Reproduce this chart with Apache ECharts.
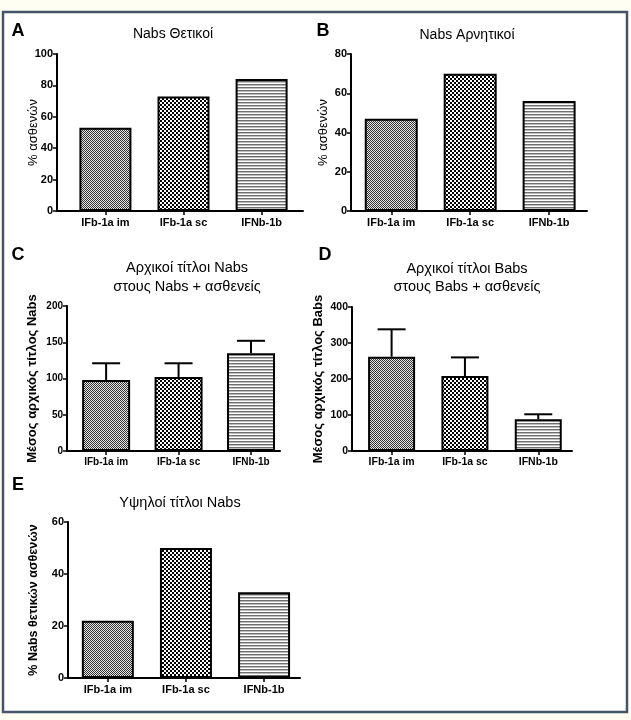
<!DOCTYPE html>
<html>
<head>
<meta charset="utf-8">
<script src="https://cdn.jsdelivr.net/npm/echarts@6/dist/echarts.min.js"></script>
<style>
html,body{margin:0;padding:0;background:#fffef3;}
#c{width:631px;height:720px;}
</style>
</head>
<body>
<div id="c"></div>
<script>
// ---------- data ----------
const categories = ['IFb-1a im', 'IFb-1a sc', 'IFNb-1b'];
const valuesA = [53, 73, 84];          // Nabs Θετικοί, % ασθενών
const valuesB = [47, 70, 56];          // Nabs Αρνητικοί, % ασθενών
const valuesC = [98, 102, 135];        // mean initial Nabs titer
const errorsC = [121, 121, 152];       // upper error bar
const valuesD = [262, 208, 88];        // mean initial Babs titer
const errorsD = [338, 260, 102];       // upper error bar
const valuesE = [22, 50, 33];          // % Nabs-positive patients with high titer
const ticksA = [0, 20, 40, 60, 80, 100];
const ticksB = [0, 20, 40, 60, 80];
const ticksC = [0, 50, 100, 150, 200];
const ticksD = [0, 100, 200, 300, 400];
const ticksE = [0, 20, 40, 60];

// ---------- patterns ----------
function makePattern(kind) {
  const c = document.createElement('canvas');
  const g = c.getContext('2d');
  if (kind === 0) {           // fine grey checker
    c.width = 2; c.height = 2;
    g.fillStyle = '#e6e6e6'; g.fillRect(0, 0, 2, 2);
    g.fillStyle = '#333333'; g.fillRect(0, 0, 1, 1); g.fillRect(1, 1, 1, 1);
  } else if (kind === 1) {    // coarse black/white checker
    c.width = 4; c.height = 4;
    g.fillStyle = '#ffffff'; g.fillRect(0, 0, 4, 4);
    g.fillStyle = '#000000'; g.fillRect(0, 0, 2, 2); g.fillRect(2, 2, 2, 2);
  } else {                    // horizontal grey stripes
    c.width = 3; c.height = 3;
    g.fillStyle = '#ffffff'; g.fillRect(0, 0, 3, 3);
    g.fillStyle = '#6e6e6e'; g.fillRect(0, 0, 3, 1);
    g.fillStyle = '#bdbdbd'; g.fillRect(0, 1, 3, 1);
  }
  return { image: c, repeat: 'repeat' };
}
const patterns = [makePattern(0), makePattern(1), makePattern(2)];

const FONT = '"Liberation Sans", Arial, sans-serif';

// ---------- panel layout ----------
const panels = [
  { grid: { left: 57, top: 54, width: 246, height: 157 }, xmin: -0.62, xmax: 2.53, ymax: 100, step: 20, ticks: ticksA,
    vals: valuesA, bw: 52, name: '% ασθενών', nameGap: 17, nameStyle: { fontSize: 13, fontWeight: 'normal' }, fs: 11 },
  { grid: { left: 351, top: 54, width: 236, height: 157 }, xmin: -0.51, xmax: 2.48, ymax: 80, step: 20, ticks: ticksB,
    vals: valuesB, bw: 53, name: '% ασθενών', nameGap: 21, nameStyle: { fontSize: 13, fontWeight: 'normal' }, fs: 11 },
  { grid: { left: 67, top: 306, width: 213, height: 145 }, xmin: -0.54, xmax: 2.4, ymax: 200, step: 50, ticks: ticksC,
    vals: valuesC, errs: errorsC, bw: 48, cap: 28, name: 'Μέσος αρχικός τίτλος Nabs', nameGap: 28, nameStyle: { fontSize: 13, fontWeight: 'bold' }, fs: 10 },
  { grid: { left: 352, top: 307, width: 220, height: 144 }, xmin: -0.54, xmax: 2.46, ymax: 400, step: 100, ticks: ticksD,
    vals: valuesD, errs: errorsD, bw: 47, cap: 28, name: 'Μέσος αρχικός τίτλος Babs', nameGap: 27, nameStyle: { fontSize: 13, fontWeight: 'bold' }, fs: 10.5 },
  { grid: { left: 68, top: 522, width: 232, height: 156 }, xmin: -0.51, xmax: 2.46, ymax: 60, step: 20, ticks: ticksE,
    vals: valuesE, bw: 52, name: '% Nabs θετικών ασθενών', nameGap: 28, nameStyle: { fontSize: 12.5, fontWeight: 'bold' }, fs: 11 }
];

const grid = [], xAxis = [], yAxis = [], series = [];
panels.forEach((p, k) => {
  grid.push(p.grid);
  xAxis.push({
    type: 'value', gridIndex: k, min: p.xmin, max: p.xmax,
    splitLine: { show: false },
    axisLine: { show: true, onZero: false, lineStyle: { color: '#000', width: 2 } },
    axisTick: { show: true, length: 4, inside: false, customValues: [0, 1, 2], lineStyle: { color: '#000', width: 1.5 } },
    axisLabel: { show: true, customValues: [0, 1, 2], margin: 6, color: '#000', fontFamily: FONT, fontWeight: 'bold', fontSize: p.fs,
      formatter: v => categories[Math.round(v)] || '' }
  });
  yAxis.push({
    type: 'value', gridIndex: k, min: 0, max: p.ymax, interval: p.step,
    splitLine: { show: false },
    axisLine: { show: true, onZero: false, lineStyle: { color: '#000', width: 2 } },
    axisTick: { show: true, length: 4, inside: false, lineStyle: { color: '#000', width: 1.5 } },
    axisLabel: { margin: 4, color: '#000', fontFamily: FONT, fontWeight: 'bold', fontSize: p.fs },
    name: p.name, nameLocation: 'middle', nameGap: p.nameGap, nameRotate: 90, nameMoveOverlap: false,
    nameTextStyle: Object.assign({ color: '#000', fontFamily: FONT }, p.nameStyle)
  });
  series.push({
    type: 'bar', xAxisIndex: k, yAxisIndex: k, barWidth: p.bw,
    data: p.vals.map((v, i) => ({ value: [i, v], itemStyle: { color: patterns[i] } })),
    itemStyle: { borderColor: '#000', borderWidth: 2 },
    silent: true
  });
  if (p.errs) {
    const cap = p.cap;
    series.push({
      type: 'custom', xAxisIndex: k, yAxisIndex: k, silent: true, z: 3,
      data: p.vals.map((v, i) => [i, v, p.errs[i]]),
      encode: { x: 0, y: [1, 2] },
      renderItem: (params, api) => {
        const a = api.coord([api.value(0), api.value(1)]);
        const b = api.coord([api.value(0), api.value(2)]);
        const st = { stroke: '#000', lineWidth: 2 };
        return { type: 'group', children: [
          { type: 'line', shape: { x1: a[0], y1: a[1], x2: b[0], y2: b[1] }, style: st },
          { type: 'line', shape: { x1: b[0] - cap / 2, y1: b[1], x2: b[0] + cap / 2, y2: b[1] }, style: st }
        ] };
      }
    });
  }
});

function txt(x, y, text, size, weight) {
  return { type: 'text', x: x, y: y, silent: true, z: 10,
    style: { text: text, fill: '#000', font: (weight || 'normal') + ' ' + size + 'px ' + FONT, align: 'center', verticalAlign: 'middle' } };
}

const graphic = [
  { type: 'rect', z: -10, silent: true, shape: { x: 3, y: 12, width: 624, height: 700 },
    style: { fill: '#ffffff', stroke: '#44546a', lineWidth: 2.5 } },
  txt(18, 31, 'A', 18, 'bold'),
  txt(323, 31, 'B', 18, 'bold'),
  txt(18, 255, 'C', 18, 'bold'),
  txt(325, 255, 'D', 18, 'bold'),
  txt(18, 485, 'E', 18, 'bold'),
  txt(173, 34, 'Nabs Θετικοί', 14),
  txt(467, 35, 'Nabs Αρνητικοί', 14),
  txt(187, 268, 'Αρχικοί τίτλοι Nabs', 14.5),
  txt(187, 287, 'στους Nabs + ασθενείς', 14.5),
  txt(467, 269, 'Αρχικοί τίτλοι Babs', 14.5),
  txt(467, 287, 'στους Babs + ασθενείς', 14.5),
  txt(180, 503, 'Υψηλοί τίτλοι Nabs', 14.5)
];

const chart = echarts.init(document.getElementById('c'), null, { renderer: 'canvas' });
chart.setOption({
  animation: false,
  backgroundColor: 'transparent',
  grid: grid, xAxis: xAxis, yAxis: yAxis, series: series, graphic: graphic
});
</script>
</body>
</html>
